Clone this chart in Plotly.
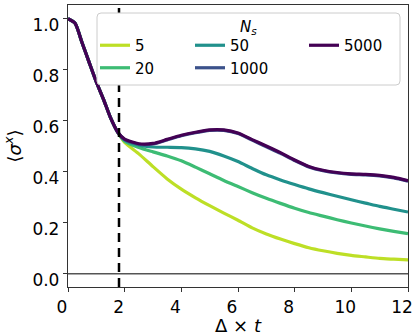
import plotly.graph_objects as go

# ---------------- data ----------------
t = [0, 0.25, 0.5, 0.75, 1.0, 1.25, 1.5, 1.75, 2.0, 2.5, 3.0, 3.5, 4.0, 4.5,
     5.0, 5.5, 6.0, 6.5, 7.0, 7.5, 8.0, 8.5, 9.0, 9.5, 10.0, 10.5, 11.0, 11.5, 12.0]

common = [1.0, 0.982, 0.905, 0.828, 0.752, 0.685, 0.612, 0.556]

ns5 = common + [0.515, 0.470, 0.420, 0.372, 0.332, 0.298, 0.267, 0.238, 0.210,
                0.180, 0.156, 0.136, 0.118, 0.102, 0.090, 0.080, 0.072, 0.066,
                0.060, 0.057, 0.054]
ns20 = common + [0.520, 0.495, 0.478, 0.462, 0.443, 0.418, 0.392, 0.366, 0.342,
                 0.318, 0.296, 0.276, 0.257, 0.240, 0.226, 0.212, 0.199, 0.187,
                 0.176, 0.166, 0.157]
ns50 = common + [0.525, 0.505, 0.497, 0.496, 0.495, 0.490, 0.480, 0.462, 0.440,
                 0.413, 0.388, 0.368, 0.350, 0.333, 0.318, 0.304, 0.290, 0.277,
                 0.264, 0.253, 0.242]
ns1000 = common + [0.526, 0.508, 0.509, 0.525, 0.541, 0.553, 0.562, 0.562, 0.550,
                   0.524, 0.498, 0.472, 0.444, 0.419, 0.404, 0.395, 0.390, 0.388,
                   0.384, 0.376, 0.363]
ns5000 = common + [0.528, 0.510, 0.511, 0.527, 0.543, 0.555, 0.564, 0.564, 0.552,
                   0.526, 0.501, 0.475, 0.446, 0.421, 0.406, 0.397, 0.392, 0.390,
                   0.386, 0.378, 0.365]

labels = ["5", "20", "50", "1000", "5000"]
series = [ns5, ns20, ns50, ns1000, ns5000]
colors = ["#bddf26", "#3dbc74", "#21918c", "#3b528b", "#440154"]
legend_ids = ["legend", "legend", "legend2", "legend2", "legend3"]

t_quench = 1.8
x_ticks = [0, 2, 4, 6, 8, 10, 12]
y_ticks = [0.0, 0.2, 0.4, 0.6, 0.8, 1.0]

# ---------------- figure ----------------
W, H = 419, 336
ML, MR, MT, MB = 68, 11, 5, 49
PW, PH = W - ML - MR, H - MT - MB

def px(xp):
    return (xp - ML) / PW

def py(yp):
    return (H - MB - yp) / PH

FONT = "DejaVu Sans"
fig = go.Figure()
for lab, ys, c, lg in zip(labels, series, colors, legend_ids):
    fig.add_trace(go.Scatter(x=t, y=ys, mode="lines", name=lab, legend=lg,
                             line=dict(color=c, width=3.2, shape="spline", smoothing=0.6)))

# zero line and quench line
fig.add_hline(y=0, line=dict(color="#555555", width=1.5))
fig.add_shape(type="line", xref="x", yref="paper", x0=t_quench, x1=t_quench,
              y0=0, y1=1, line=dict(color="black", width=2.5, dash="9px,6px"))

# legend frame (rounded rectangle)
x0p, x1p, y0p, y1p, r = 97, 400, 13, 85, 4
rx, ry = r / PW, r / PH
X0, X1, Y0, Y1 = px(x0p), px(x1p), py(y1p), py(y0p)
path = (f"M{X0+rx},{Y0} L{X1-rx},{Y0} Q{X1},{Y0} {X1},{Y0+ry} "
        f"L{X1},{Y1-ry} Q{X1},{Y1} {X1-rx},{Y1} L{X0+rx},{Y1} "
        f"Q{X0},{Y1} {X0},{Y1-ry} L{X0},{Y0+ry} Q{X0},{Y0} {X0+rx},{Y0} Z")
fig.add_shape(type="path", xref="paper", yref="paper", path=path,
              fillcolor="white", line=dict(color="#cccccc", width=1),
              layer="above")
fig.add_annotation(xref="paper", yref="paper", x=px(248), y=py(28),
                   yanchor="middle", xanchor="center",
                   text="<i>N<sub>s</sub></i>", showarrow=False,
                   font=dict(family=FONT, size=15, color="black"))

leg_common = dict(bgcolor="rgba(0,0,0,0)", borderwidth=0, xanchor="left",
                  yanchor="top", font=dict(family=FONT, size=15, color="black"),
                  tracegroupgap=0, itemwidth=30)
fig.update_layout(
    width=W, height=H,
    margin=dict(l=ML, r=MR, t=MT, b=MB, pad=0),
    paper_bgcolor="white", plot_bgcolor="white",
    font=dict(family=FONT, size=17, color="black"),
    showlegend=True,
    legend=dict(x=px(95), y=py(29), **leg_common),
    legend2=dict(x=px(190), y=py(29), **leg_common),
    legend3=dict(x=px(304), y=py(29), **leg_common),
    xaxis=dict(range=[0, 12], tickvals=x_ticks, showgrid=False, zeroline=False,
               showline=True, linecolor="#333333", linewidth=1.3, mirror=True,
               ticks="outside", ticklen=4, tickwidth=1.3, tickcolor="#333333",
               tickfont=dict(size=17), ticklabelshift=-6, ticklabelstandoff=0,
               title=dict(text="Δ × <i>t</i>", font=dict(size=18), standoff=0)),
    yaxis=dict(range=[-0.052, 1.054], tickvals=y_ticks, tickformat=".1f",
               showgrid=False, zeroline=False,
               showline=True, linecolor="#333333", linewidth=1.3, mirror=True,
               ticks="outside", ticklen=4, tickwidth=1.3, tickcolor="#333333",
               tickfont=dict(size=17), ticklabelshift=6,
               title=dict(text="⟨<i>σ</i><sup><i>x</i></sup>⟩", font=dict(size=18),
                          standoff=6)),
)

fig.write_html("out.html", config={"displayModeBar": False},
               post_script="document.body.style.margin='0';")
